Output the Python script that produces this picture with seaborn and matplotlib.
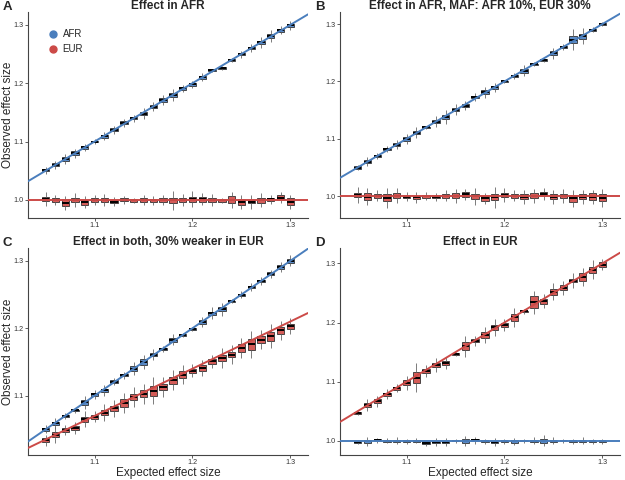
import numpy as np
import pandas as pd
import matplotlib
matplotlib.use('Agg')
import matplotlib.pyplot as plt
from matplotlib.lines import Line2D
import seaborn as sns

# %%
expected = [1.05, 1.06, 1.07, 1.08, 1.09, 1.10, 1.11, 1.12, 1.13, 1.14, 1.15, 1.16, 1.17,
            1.18, 1.19, 1.20, 1.21, 1.22, 1.23, 1.24, 1.25, 1.26, 1.27, 1.28, 1.29, 1.30]

# panel A: effect in AFR
a_afr_med = [1.051, 1.060, 1.070, 1.080, 1.090, 1.100, 1.109, 1.120, 1.132, 1.140, 1.148, 1.160, 1.171,
             1.180, 1.191, 1.198, 1.210, 1.222, 1.226, 1.240, 1.250, 1.260, 1.270, 1.281, 1.291, 1.299]
a_afr_iqr = [0.004, 0.005, 0.006, 0.006, 0.004, 0.003, 0.005, 0.005, 0.005, 0.004, 0.006, 0.005, 0.006,
             0.006, 0.004, 0.004, 0.005, 0.002, 0.002, 0.003, 0.004, 0.004, 0.006, 0.007, 0.005, 0.006]
a_afr_whisk = [0.006, 0.007, 0.009, 0.008, 0.006, 0.004, 0.007, 0.007, 0.007, 0.006, 0.009, 0.008, 0.009,
               0.010, 0.006, 0.006, 0.007, 0.003, 0.003, 0.004, 0.006, 0.007, 0.009, 0.010, 0.007, 0.008]
a_eur_med = [1.001, 1.000, 0.995, 1.000, 0.996, 1.000, 1.000, 0.997, 1.000, 0.999, 1.000, 0.999, 1.000,
             0.999, 1.000, 1.001, 1.001, 1.000, 0.999, 1.000, 0.996, 0.997, 0.999, 1.001, 1.004, 0.997]
a_eur_iqr = [0.007, 0.007, 0.012, 0.008, 0.008, 0.007, 0.007, 0.005, 0.005, 0.004, 0.007, 0.006, 0.007,
             0.008, 0.006, 0.008, 0.008, 0.008, 0.004, 0.012, 0.010, 0.006, 0.009, 0.005, 0.008, 0.011]
a_eur_whisk = [0.012, 0.009, 0.012, 0.012, 0.010, 0.008, 0.010, 0.008, 0.007, 0.005, 0.009, 0.007, 0.009,
               0.016, 0.010, 0.014, 0.010, 0.010, 0.005, 0.014, 0.012, 0.012, 0.012, 0.008, 0.009, 0.012]

# panel B: effect in AFR, MAF differs
b_afr_med = [1.050, 1.060, 1.070, 1.082, 1.090, 1.100, 1.111, 1.120, 1.130, 1.138, 1.151, 1.158, 1.173,
             1.181, 1.190, 1.200, 1.210, 1.219, 1.230, 1.237, 1.249, 1.260, 1.273, 1.279, 1.290, 1.300]
b_afr_iqr = [0.004, 0.005, 0.004, 0.003, 0.005, 0.006, 0.006, 0.002, 0.006, 0.008, 0.006, 0.006, 0.004,
             0.007, 0.005, 0.002, 0.004, 0.007, 0.002, 0.003, 0.007, 0.003, 0.012, 0.009, 0.003, 0.002]
b_afr_whisk = [0.005, 0.008, 0.005, 0.005, 0.008, 0.009, 0.010, 0.003, 0.009, 0.013, 0.010, 0.008, 0.007,
               0.010, 0.008, 0.003, 0.005, 0.010, 0.003, 0.004, 0.010, 0.005, 0.018, 0.014, 0.004, 0.003]
b_eur_med = [1.002, 0.999, 1.001, 0.997, 1.001, 0.999, 0.998, 1.000, 0.999, 1.001, 1.001, 1.003, 1.000,
             0.996, 0.998, 1.002, 1.001, 0.999, 1.001, 1.004, 0.999, 1.000, 0.996, 0.999, 0.999, 0.997]
b_eur_iqr = [0.008, 0.012, 0.007, 0.012, 0.009, 0.005, 0.006, 0.005, 0.005, 0.007, 0.009, 0.010, 0.009,
             0.008, 0.010, 0.007, 0.007, 0.008, 0.010, 0.008, 0.008, 0.006, 0.011, 0.009, 0.012, 0.012]
b_eur_whisk = [0.014, 0.015, 0.010, 0.018, 0.013, 0.008, 0.010, 0.007, 0.007, 0.010, 0.012, 0.010, 0.015,
               0.010, 0.018, 0.012, 0.010, 0.012, 0.012, 0.010, 0.012, 0.012, 0.015, 0.012, 0.012, 0.016]

# panel C: effect in both, 30% weaker in EUR
c_afr_med = [1.050, 1.059, 1.070, 1.078, 1.090, 1.102, 1.108, 1.121, 1.130, 1.140, 1.150, 1.161, 1.169,
             1.183, 1.190, 1.199, 1.209, 1.222, 1.228, 1.240, 1.250, 1.261, 1.270, 1.281, 1.291, 1.300]
c_afr_iqr = [0.004, 0.005, 0.004, 0.002, 0.008, 0.005, 0.005, 0.003, 0.003, 0.008, 0.008, 0.005, 0.003,
             0.006, 0.002, 0.002, 0.005, 0.005, 0.006, 0.002, 0.003, 0.004, 0.004, 0.004, 0.005, 0.006]
c_afr_whisk = [0.006, 0.008, 0.005, 0.003, 0.010, 0.007, 0.008, 0.005, 0.005, 0.010, 0.010, 0.008, 0.004,
               0.008, 0.003, 0.003, 0.007, 0.009, 0.010, 0.003, 0.005, 0.006, 0.006, 0.006, 0.007, 0.008]
c_eur_med = [1.034, 1.042, 1.049, 1.052, 1.065, 1.069, 1.075, 1.081, 1.089, 1.098, 1.103, 1.107, 1.113,
             1.123, 1.131, 1.137, 1.141, 1.151, 1.156, 1.161, 1.171, 1.176, 1.183, 1.188, 1.197, 1.203]
c_eur_iqr = [0.006, 0.008, 0.006, 0.006, 0.008, 0.006, 0.008, 0.008, 0.012, 0.010, 0.010, 0.016, 0.010,
             0.010, 0.010, 0.006, 0.008, 0.008, 0.010, 0.008, 0.012, 0.016, 0.010, 0.014, 0.010, 0.008]
c_eur_whisk = [0.008, 0.012, 0.008, 0.009, 0.012, 0.008, 0.012, 0.012, 0.015, 0.015, 0.015, 0.020, 0.015,
               0.015, 0.014, 0.010, 0.012, 0.010, 0.015, 0.014, 0.015, 0.020, 0.014, 0.018, 0.014, 0.012]

# panel D: effect in EUR
d_afr_med = [0.998, 0.999, 1.001, 1.000, 1.000, 0.999, 1.000, 0.997, 0.998, 0.998, 1.000, 1.000, 1.001,
             0.999, 0.998, 0.999, 0.999, 1.000, 1.000, 1.000, 1.000, 1.000, 0.999, 1.000, 0.999, 0.999]
d_afr_iqr = [0.003, 0.006, 0.003, 0.003, 0.004, 0.003, 0.003, 0.004, 0.005, 0.005, 0.002, 0.006, 0.004,
             0.003, 0.005, 0.003, 0.004, 0.002, 0.004, 0.006, 0.004, 0.002, 0.003, 0.004, 0.003, 0.003]
d_afr_whisk = [0.004, 0.008, 0.004, 0.004, 0.006, 0.004, 0.004, 0.005, 0.006, 0.007, 0.003, 0.008, 0.006,
               0.004, 0.006, 0.004, 0.006, 0.003, 0.006, 0.009, 0.006, 0.003, 0.004, 0.006, 0.004, 0.004]
d_eur_med = [1.047, 1.061, 1.067, 1.079, 1.089, 1.098, 1.107, 1.118, 1.128, 1.132, 1.147, 1.160, 1.169,
             1.179, 1.192, 1.196, 1.209, 1.219, 1.234, 1.236, 1.252, 1.259, 1.271, 1.277, 1.289, 1.298]
d_eur_iqr = [0.003, 0.007, 0.007, 0.005, 0.005, 0.008, 0.018, 0.007, 0.008, 0.006, 0.003, 0.014, 0.005,
             0.010, 0.008, 0.007, 0.012, 0.002, 0.020, 0.008, 0.010, 0.009, 0.006, 0.012, 0.010, 0.007]
d_eur_whisk = [0.004, 0.010, 0.009, 0.008, 0.007, 0.012, 0.024, 0.010, 0.012, 0.010, 0.004, 0.018, 0.008,
               0.014, 0.014, 0.010, 0.016, 0.004, 0.020, 0.012, 0.014, 0.012, 0.012, 0.016, 0.016, 0.010]

panel_letters = ['A', 'B', 'C', 'D']
panel_titles = ['Effect in AFR', 'Effect in AFR, MAF: AFR 10%, EUR 30%',
                'Effect in both, 30% weaker in EUR', 'Effect in EUR']
slope_afr = [1, 1, 1, 0]
slope_eur = [0, 0, 0.7, 1]
ylims = [(0.969, 1.322), (0.962, 1.321), (1.012, 1.319), (0.976, 1.326)]

# %%
pop_colors = {'AFR': '#4a7ebd', 'EUR': '#cc4a47'}
box_colors = {'AFR': '#5b8bc7', 'EUR': '#d45c58'}

def box_rows(med, iqr, whisk, pop):
    # five values per box -> quartiles & whiskers come out exactly
    rows = []
    for x, m, q, w in zip(expected, med, iqr, whisk):
        for v in [m - w, m - q / 2, m, m + q / 2, m + w]:
            rows.append({'expected': x, 'observed': v, 'pop': pop})
    return rows

panels = [
    box_rows(a_afr_med, a_afr_iqr, a_afr_whisk, 'AFR') + box_rows(a_eur_med, a_eur_iqr, a_eur_whisk, 'EUR'),
    box_rows(b_afr_med, b_afr_iqr, b_afr_whisk, 'AFR') + box_rows(b_eur_med, b_eur_iqr, b_eur_whisk, 'EUR'),
    box_rows(c_afr_med, c_afr_iqr, c_afr_whisk, 'AFR') + box_rows(c_eur_med, c_eur_iqr, c_eur_whisk, 'EUR'),
    box_rows(d_afr_med, d_afr_iqr, d_afr_whisk, 'AFR') + box_rows(d_eur_med, d_eur_iqr, d_eur_whisk, 'EUR'),
]

# %%
sns.set_theme(style='ticks')
plt.rcParams['font.family'] = ['Liberation Sans', 'DejaVu Sans']

f = plt.figure(figsize=(6.25, 4.8), dpi=100)
W, H = 625, 480
# pixel boxes (left, top, right, bottom)
px = [(28, 12, 308, 218), (340, 12, 620, 218), (28, 248, 308, 455), (340, 248, 620, 455)]

for i in range(4):
    l, t, r, b = px[i]
    ax = f.add_axes([l / W, 1 - b / H, (r - l) / W, (b - t) / H])
    df = pd.DataFrame(panels[i])
    sns.boxplot(ax=ax, data=df, x='expected', y='observed', hue='pop', hue_order=['AFR', 'EUR'],
                palette=box_colors, native_scale=True, dodge=False, whis=(0, 100), width=0.75,
                saturation=1, linewidth=0.6, linecolor='#333333', legend=False, showcaps=False,
                medianprops=dict(color='black', linewidth=1.4),
                whiskerprops=dict(color='#666666', linewidth=0.6))
    for pop, s in [('AFR', slope_afr[i]), ('EUR', slope_eur[i])]:
        ax.axline((1.0, 1.0), slope=s, color=pop_colors[pop], lw=1.4, zorder=3)
    ax.set_xlim(1.032, 1.318)
    ax.set_ylim(*ylims[i])
    ax.set_xticks([1.1, 1.2, 1.3])
    ax.set_xticklabels(['1.1', '1.2', '1.3'])
    yt = [v for v in [1.0, 1.1, 1.2, 1.3] if ylims[i][0] < v < ylims[i][1]]
    ax.set_yticks(yt)
    ax.set_yticklabels([f'{v:.1f}' for v in yt])
    ax.tick_params(labelsize=5.2, length=2, width=0.6, color='#444444', labelcolor='#333333', pad=1)
    for sp in ['left', 'bottom']:
        ax.spines[sp].set_color('#444444')
        ax.spines[sp].set_linewidth(0.8)
    sns.despine(ax=ax)
    ax.set_title(panel_titles[i], fontsize=8.5, fontweight='bold', pad=2)
    if i % 2 == 0:
        ax.set_ylabel('Observed effect size', fontsize=8.5)
        ax.yaxis.set_label_coords(-14 / (r - l), 0.5)
    else:
        ax.set_ylabel('')
    if i >= 2:
        ax.set_xlabel('Expected effect size', fontsize=8.5)
        ax.xaxis.set_label_coords(0.5, -12 / (b - t))
    else:
        ax.set_xlabel('')
    f.text((l - 25) / W, 1 - (t + 0.5) / H, panel_letters[i], fontsize=9.5, fontweight='bold',
           ha='left', va='bottom')
    if i == 0:
        handles = [Line2D([], [], marker='o', ls='', color=pop_colors[p], markersize=5) for p in ['AFR', 'EUR']]
        ax.legend(handles, ['AFR', 'EUR'], loc='upper left', bbox_to_anchor=(0.04, 0.96), frameon=False,
                  fontsize=7, handlelength=1, handletextpad=0.5, labelspacing=0.55)

f.savefig('out.png', dpi=100)
